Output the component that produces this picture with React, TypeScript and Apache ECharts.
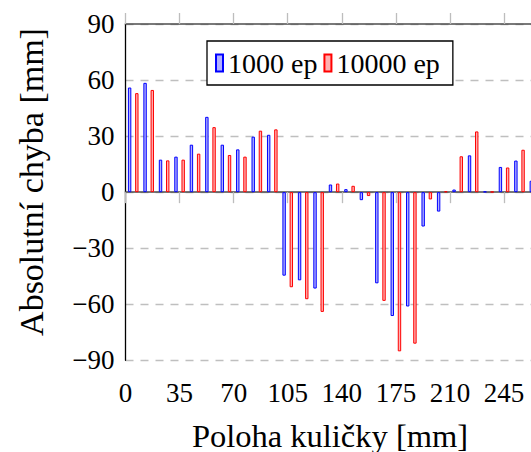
import React, { useEffect, useRef } from "react";
import * as echarts from "echarts";

// Ball positions along the track [mm] (one pair of bars per position)
const positions = [5, 15, 25, 35, 45, 55, 65, 75, 85, 95, 105, 115, 125, 135, 145, 155, 165, 175, 185, 195, 205, 215, 225, 235, 245, 255, 265];

// Absolute error [mm] after 1000 training epochs
const err1000 = [56, 58.5, 17.4, 19, 25.4, 40.3, 25.4, 22.9, 29.7, 30.7, -44.7, -47.2, -51.6, 4.1, 1.6, -4.3, -48.8, -66.3, -61.2, -18.4, -10.4, 1.4, 19.7, 0.3, 13.5, 16.9, 6.1];

// Absolute error [mm] after 10000 training epochs
const err10000 = [53, 54.7, 17, 17.4, 20.6, 34.8, 19.9, 19, 32.9, 33.6, -50.9, -57.3, -64.1, 4.6, 3.4, -2.1, -58.2, -85.2, -81.1, -3.9, 0.4, 19.2, 32.5, 0.2, 13.2, 22.7, null];

const seriesNames = ["1000 ep", "10000 ep"];
const xTicks = { min: 0, max: 280, interval: 35 };
const yTicks = { min: -90, max: 90, interval: 30 };

const FONT = "Liberation Serif";

const minus = (v: number) => String(v).replace("-", "\u2212");

export default function App() {
  const ref = useRef<HTMLDivElement>(null);

  useEffect(() => {
    if (!ref.current) return;
    const chart = echarts.init(ref.current, null, { renderer: "svg" });

    const pairs = (vals: (number | null)[]) =>
      positions.map((x, i) => [x, vals[i]]);

    const bar = (name: string, vals: (number | null)[], stroke: string, fill: string) => ({
      type: "bar",
      name,
      data: pairs(vals),
      barWidth: 3.4,
      barGap: "112%",
      itemStyle: { color: fill, borderColor: stroke, borderWidth: 1 },
      emphasis: { disabled: true },
    });

    const xCommon = {
      type: "value",
      min: xTicks.min,
      max: xTicks.max,
      interval: xTicks.interval,
      axisLine: { show: true, lineStyle: { color: "#4d4d4d", width: 1.6 } },
      axisTick: { show: true, inside: false, length: 11, lineStyle: { color: "#bdbdbd", width: 1.3 } },
      splitLine: { show: false },
    };

    chart.setOption({
      animation: false,
      textStyle: { fontFamily: FONT },
      grid: { left: 125.5, top: 24, right: 1.9, bottom: 91.7, outerBoundsMode: "none", containLabel: false },
      legend: {
        data: seriesNames,
        left: 207,
        top: 41,
        icon: "rect",
        itemWidth: 7,
        itemHeight: 17,
        itemGap: 6,
        padding: [8, 13, 8, 8],
        borderColor: "#000",
        borderWidth: 1.3,
        borderRadius: 0,
        backgroundColor: "#fff",
        textStyle: { fontFamily: FONT, fontSize: 28, color: "#000" },
        selectedMode: false,
      },
      xAxis: [
        {
          ...xCommon,
          position: "bottom",
          axisLabel: {
            fontFamily: FONT,
            fontSize: 27,
            color: "#000",
            margin: 19,
            showMaxLabel: false,
          },
        },
        {
          ...xCommon,
          position: "top",
          axisLabel: { show: false },
        },
      ],
      yAxis: {
        type: "value",
        min: yTicks.min,
        max: yTicks.max,
        interval: yTicks.interval,
        axisLine: { show: true, onZero: false, lineStyle: { color: "#000", width: 1.3 } },
        axisTick: { show: false },
        axisLabel: {
          fontFamily: FONT,
          fontSize: 27,
          color: "#000",
          margin: 11,
          formatter: minus,
        },
        splitLine: {
          show: true,
          lineStyle: { color: "#bfbfbf", width: 1.3, type: [8, 7] },
        },
      },
      series: [
        bar(seriesNames[0], err1000, "#0000ff", "#b0b0ff"),
        bar(seriesNames[1], err10000, "#ff0000", "#ffb0b0"),
      ],
      graphic: [
        {
          type: "text",
          x: 330,
          y: 435.5,
          style: {
            text: "Poloha kuličky [mm]",
            fontFamily: FONT,
            fontSize: 32.5,
            fill: "#000",
            align: "center",
            verticalAlign: "middle",
          },
        },
        {
          type: "text",
          x: 31,
          y: 182,
          rotation: Math.PI / 2,
          style: {
            text: "Absolutní chyba [mm]",
            fontFamily: FONT,
            fontSize: 34,
            fill: "#000",
            align: "center",
            verticalAlign: "middle",
          },
        },
      ],
    });

    return () => chart.dispose();
  }, []);

  // The plot box runs on past the right edge of the 531px figure, so the
  // chart is drawn wider and clipped by its frame.
  return (
    <div
      style={{ position: "fixed", left: 0, top: 0, width: 531, height: 452, overflow: "hidden", background: "#fff" }}
    >
      <div ref={ref} style={{ width: 560, height: 452 }} />
    </div>
  );
}
